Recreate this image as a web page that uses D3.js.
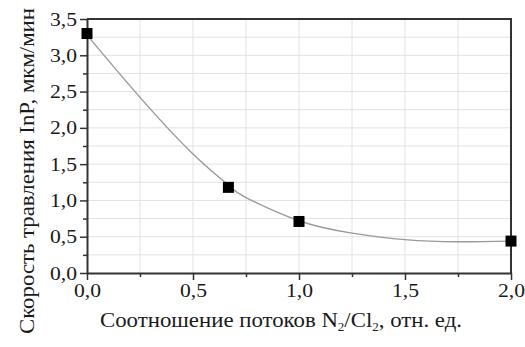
<!DOCTYPE html>
<html>
<head>
<meta charset="utf-8">
<script src="https://cdn.jsdelivr.net/npm/d3@7/dist/d3.min.js"></script>
<style>
  html, body { margin: 0; padding: 0; background: #fff; }
  text { font-family: "Times New Roman", "Liberation Serif", Tinos, Times, serif; fill: #1a1a1a; }
</style>
</head>
<body>
<div id="chart"></div>
<script>
// измеренные точки
const ratio = [0, 0.667, 1.0, 2.0];
const rate = [3.3, 1.18, 0.71, 0.44];

// аппроксимирующая кривая
const fitX = [0, 0.25, 0.5, 0.667, 0.75, 1.0, 1.25, 1.5, 1.75, 2.0];
const fitY = [3.28, 2.42, 1.64, 1.21, 1.04, 0.72, 0.55, 0.46, 0.43, 0.44];

const xTicks = [0, 0.5, 1.0, 1.5, 2.0];
const yTicks = [0, 0.5, 1.0, 1.5, 2.0, 2.5, 3.0, 3.5];
const xMinor = [0.25, 0.75, 1.25, 1.75];
const yMinor = [0.25, 0.75, 1.25, 1.75, 2.25, 2.75, 3.25];

const width = 525;
const height = 347;
const margin = { top: 19, right: 14, bottom: 74, left: 87 };

const svg = d3.select("#chart").append("svg")
  .attr("width", width)
  .attr("height", height);

const x = d3.scaleLinear()
  .domain([0, 2])
  .range([margin.left, width - margin.right]);

const y = d3.scaleLinear()
  .domain([0, 3.5])
  .range([height - margin.bottom, margin.top]);

const fmt = v => d3.format(".1f")(v).replace(".", ",");

// сетка
const grid = svg.append("g").attr("stroke", "#e2e2e2").attr("stroke-width", 1);
grid.selectAll(".gx").data(d3.range(1, 8).map(i => i * 0.25))
  .join("line")
  .attr("x1", d => x(d)).attr("x2", d => x(d))
  .attr("y1", y(0)).attr("y2", y(3.5));
grid.selectAll(".gy").data(d3.range(1, 14).map(i => i * 0.25))
  .join("line")
  .attr("x1", x(0)).attr("x2", x(2))
  .attr("y1", d => y(d)).attr("y2", d => y(d));

// кривая
const line = d3.line()
  .x(d => x(d[0]))
  .y(d => y(d[1]))
  .curve(d3.curveNatural);

svg.append("path")
  .datum(fitX.map((v, i) => [v, fitY[i]]))
  .attr("fill", "none")
  .attr("stroke", "#9a9a9a")
  .attr("stroke-width", 1.4)
  .attr("d", line);

// рамка сверху и справа
svg.append("path")
  .attr("d", `M${x(0)},${y(3.5)}H${x(2)}V${y(0)}`)
  .attr("fill", "none")
  .attr("stroke", "#333")
  .attr("stroke-width", 2);

// оси
const xAxis = svg.append("g")
  .attr("transform", `translate(0,${y(0)})`)
  .call(d3.axisBottom(x).tickValues(xTicks).tickFormat(fmt).tickSize(7).tickPadding(4).tickSizeOuter(0));
xAxis.append("g")
  .call(d3.axisBottom(x).tickValues(xMinor).tickFormat("").tickSize(4).tickSizeOuter(0))
  .select(".domain").remove();

const yAxis = svg.append("g")
  .attr("transform", `translate(${x(0)},0)`)
  .call(d3.axisLeft(y).tickValues(yTicks).tickFormat(fmt).tickSize(7).tickPadding(3).tickSizeOuter(0));
yAxis.append("g")
  .call(d3.axisLeft(y).tickValues(yMinor).tickFormat("").tickSize(4).tickSizeOuter(0))
  .select(".domain").remove();

svg.selectAll(".domain").attr("stroke", "#333").attr("stroke-width", 2);
svg.selectAll(".tick line").attr("stroke", "#333").attr("stroke-width", 1.5);
svg.selectAll(".tick text").attr("font-size", 19);
xAxis.selectAll(".tick text").attr("textLength", 27).attr("lengthAdjust", "spacingAndGlyphs");
yAxis.selectAll(".tick text").attr("textLength", 27).attr("lengthAdjust", "spacingAndGlyphs");

// точки
svg.append("g")
  .selectAll("rect")
  .data(ratio.map((v, i) => [v, rate[i]]))
  .join("rect")
  .attr("x", d => x(d[0]) - 5.5)
  .attr("y", d => y(d[1]) - 5.5)
  .attr("width", 11)
  .attr("height", 11)
  .attr("fill", "#000");

// подписи осей
const xt = svg.append("text")
  .attr("x", 100)
  .attr("y", 327)
  .attr("font-size", 21)
  .attr("textLength", 362)
  .attr("lengthAdjust", "spacingAndGlyphs");
xt.append("tspan").text("Соотношение потоков N");
xt.append("tspan").attr("font-size", 12).attr("dy", 4).text("2");
xt.append("tspan").attr("dy", -4).text("/Cl");
xt.append("tspan").attr("font-size", 12).attr("dy", 4).text("2");
xt.append("tspan").attr("dy", -4).text(", отн. ед.");

svg.append("text")
  .attr("transform", `translate(34,334) rotate(-90)`)
  .attr("font-size", 22)
  .attr("textLength", 326)
  .attr("lengthAdjust", "spacingAndGlyphs")
  .text("Скорость травления InP, мкм/мин");
</script>
</body>
</html>
